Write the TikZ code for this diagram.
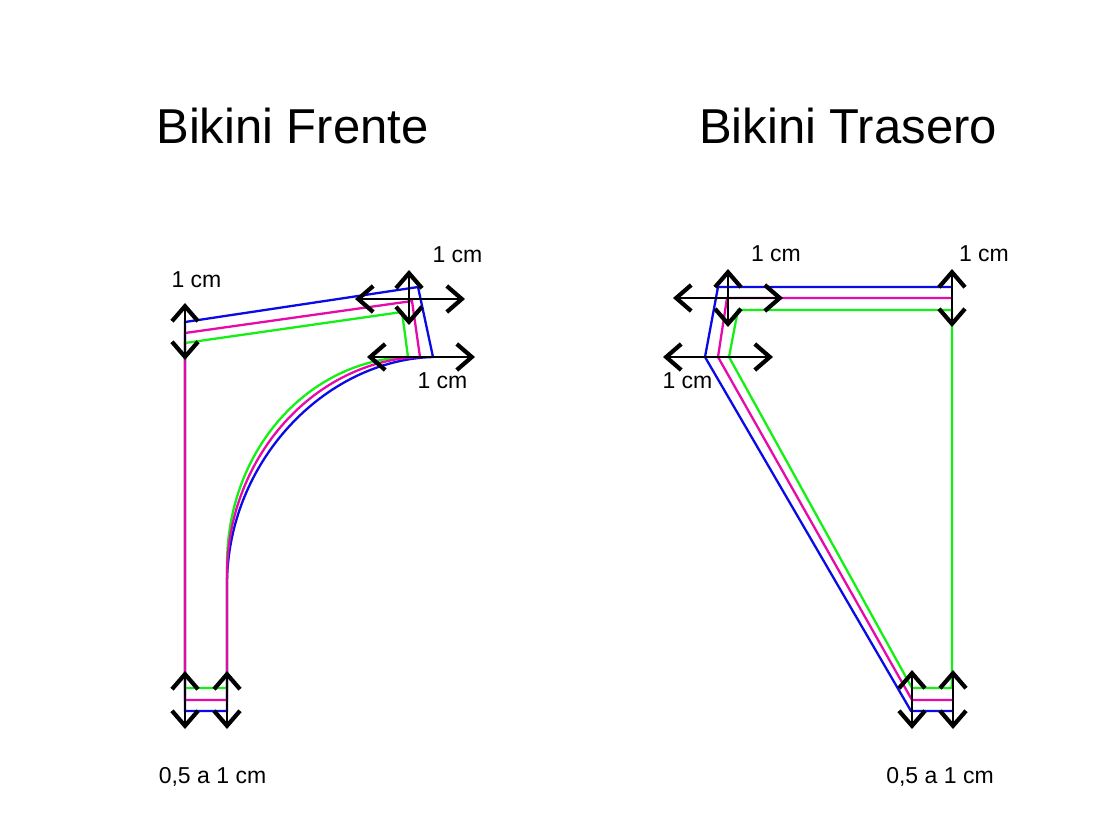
\documentclass[tikz,border=0pt]{standalone}
\usepackage{fontspec}
\setmainfont{Liberation Sans}
\usetikzlibrary{arrows.meta}
\definecolor{blueL}{RGB}{10,10,230}
\definecolor{magL}{RGB}{230,10,170}
\definecolor{greenL}{RGB}{20,240,20}
\tikzset{
  dimarrow/.style={black, line width=2pt,
    {Straight Barb[length=15pt,width=26pt,line width=4.2pt]}-{Straight Barb[length=15pt,width=26pt,line width=4.2pt]}},
  outline/.style={line width=2.3pt, line join=miter},
  title/.style={font=\fontsize{49}{58}\selectfont, anchor=base, inner sep=0pt},
  lbl/.style={font=\fontsize{23}{28}\selectfont, anchor=base, inner sep=0pt}
}
\begin{document}
\begin{tikzpicture}[x=1pt,y=-1pt]
\useasboundingbox[fill=white] (0,0) rectangle (1101,820);

% titles
\node[title] (t1) at (292.5,143) {Bikini Frente};
\node[title] (t2) at (848,143) {Bikini Trasero};

% ---------- Bikini Frente ----------
\draw[outline, blueL] (185,322) -- (418,287) -- (433,357)
  .. controls (325,360) and (227,462) .. (227,585) -- (227,711) -- (185,711) -- cycle;
\draw[outline, greenL] (185,343) -- (402,312) -- (408,357)
  .. controls (310,360) and (227,448) .. (227,565) -- (227,688) -- (185,688) -- cycle;
\draw[outline, magL] (185,700) -- (185,333) -- (412,301) -- (420,357)
  .. controls (317,360) and (227,455) .. (227,575) -- (227,700) -- cycle;

% ---------- Bikini Trasero ----------
\draw[outline, blueL] (952,287) -- (718,287) -- (705,357) -- (911,711) -- (952,711);
\draw[outline, greenL] (952,688) -- (952,310) -- (738,310) -- (729,357) -- (912,688) -- cycle;
\draw[outline, magL] (952,298) -- (727,298) -- (718,357) -- (912,700) -- (952,700);

% ---------- arrows (Frente) ----------
\coordinate (a1s) at (185,303); \coordinate (a1e) at (185,360);
\coordinate (a2s) at (355,299); \coordinate (a2e) at (465,299);
\coordinate (a3s) at (409,270); \coordinate (a3e) at (409,325);
\coordinate (a4s) at (367,357); \coordinate (a4e) at (475,357);
\coordinate (a5s) at (185,671); \coordinate (a5e) at (185,729);
\coordinate (a6s) at (227,671); \coordinate (a6e) at (227,729);
\draw[dimarrow] (a1s) -- (a1e);
\draw[dimarrow] (a2s) -- (a2e);
\draw[dimarrow] (a3s) -- (a3e);
\draw[dimarrow] (a4s) -- (a4e);
\draw[dimarrow] (a5s) -- (a5e);
\draw[dimarrow] (a6s) -- (a6e);

% ---------- arrows (Trasero) ----------
\coordinate (b1s) at (728,269); \coordinate (b1e) at (728,327);
\coordinate (b2s) at (673,298); \coordinate (b2e) at (783,298);
\coordinate (b3s) at (952,269); \coordinate (b3e) at (952,327);
\coordinate (b4s) at (663,357); \coordinate (b4e) at (773,357);
\coordinate (b5s) at (912,670); \coordinate (b5e) at (912,729);
\coordinate (b6s) at (953,670); \coordinate (b6e) at (953,729);
\draw[dimarrow] (b1s) -- (b1e);
\draw[dimarrow] (b2s) -- (b2e);
\draw[dimarrow] (b3s) -- (b3e);
\draw[dimarrow] (b4s) -- (b4e);
\draw[dimarrow] (b5s) -- (b5e);
\draw[dimarrow] (b6s) -- (b6e);

% ---------- labels ----------
\node[lbl] (l1) at (196.5,287) {1 cm};
\node[lbl] (l2) at (457.5,262) {1 cm};
\node[lbl] (l3) at (442.5,388) {1 cm};
\node[lbl] (l4) at (212.5,783) {0,5 a 1 cm};
\node[lbl] (r1) at (776,261) {1 cm};
\node[lbl] (r2) at (984,261) {1 cm};
\node[lbl] (r3) at (687.5,388) {1 cm};
\node[lbl] (r4) at (940,783) {0,5 a 1 cm};
\end{tikzpicture}
\end{document}
